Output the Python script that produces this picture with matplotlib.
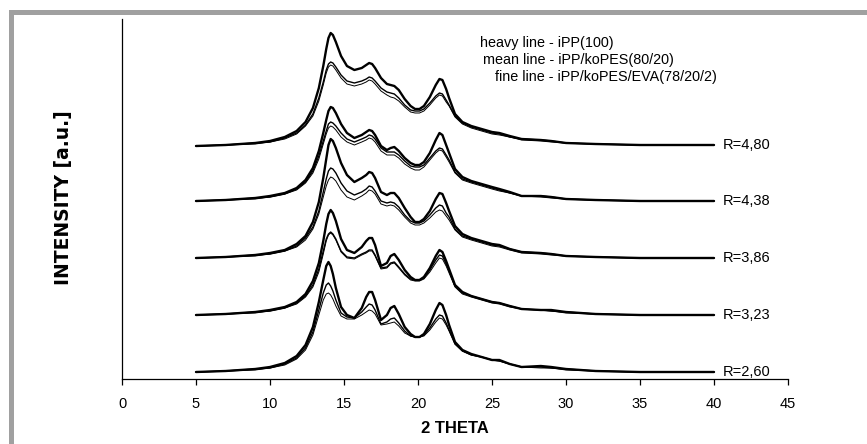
import matplotlib
matplotlib.use("Agg")
import matplotlib.pyplot as plt
from matplotlib.patches import Rectangle

plt.rcParams['font.family'] = ['Liberation Sans', 'DejaVu Sans']

# 2-theta grid
theta = [5, 7, 9, 10, 11, 11.8, 12.4, 12.9, 13.3, 13.6,
         13.8, 13.95, 14.1, 14.25, 14.45, 14.8, 15.2, 15.7, 16.2, 16.5,
         16.7, 16.9, 17.1, 17.5, 17.9, 18.15, 18.4, 18.7, 19.1, 19.5,
         19.8, 20.1, 20.4, 20.8, 21.2, 21.45, 21.65, 21.9, 22.1, 22.5,
         23.0, 23.6, 24.3, 25.0, 25.5, 26.2, 27.0, 28.3, 29.0, 30.0,
         32.0, 35.0, 40.0]

r_labels = ["R=2,60", "R=3,23", "R=3,86", "R=4,38", "R=4,80"]
offsets = [7, 64, 121, 178, 233]

# intensities (a.u.) above each pattern's baseline: heavy / mean / fine
heavy = [
    [0, 1, 3, 5, 9, 16, 27, 45, 70, 92, 106, 110, 106, 98, 84, 65, 57, 54, 64, 75,
     80, 80, 72, 52, 57, 64, 66, 58, 45, 38, 35, 35, 38, 48, 62, 69, 67, 57, 47, 30,
     22, 18, 15, 12, 12, 8, 5, 6, 5, 3, 1, 0, 0],
    [0, 1, 3, 5, 8, 13, 21, 34, 52, 74, 91, 101, 105, 102, 94, 76, 65, 62, 68, 74,
     77, 77, 70, 49, 52, 59, 61, 55, 45, 38, 35, 35, 38, 47, 59, 65, 63, 54, 46, 30,
     23, 19, 16, 13, 12, 9, 6, 5, 5, 3, 1, 0, 0],
    [0, 1, 3, 5, 8, 14, 22, 36, 56, 80, 99, 113, 119, 117, 110, 95, 83, 76, 80, 83,
     86, 85, 80, 66, 63, 65, 65, 60, 50, 41, 36, 36, 39, 47, 59, 65, 64, 55, 47, 32,
     24, 20, 17, 14, 13, 9, 6, 5, 4, 2, 1, 0, 0],
    [0, 1, 3, 5, 8, 13, 21, 33, 50, 68, 81, 90, 94, 93, 88, 77, 68, 63, 66, 69,
     71, 70, 66, 55, 51, 53, 54, 50, 43, 38, 36, 36, 39, 48, 61, 68, 66, 56, 48, 32,
     24, 20, 17, 14, 12, 9, 5, 5, 4, 2, 1, 0, 0],
    [0, 1, 3, 5, 9, 15, 24, 38, 58, 80, 97, 108, 113, 111, 104, 90, 80, 76, 78, 81,
     83, 82, 78, 68, 62, 61, 60, 56, 47, 40, 37, 37, 40, 49, 61, 67, 66, 57, 48, 32,
     24, 20, 17, 14, 13, 10, 7, 6, 5, 3, 2, 1, 1],
]
mean = [
    [0, 1, 3, 4, 8, 14, 24, 40, 62, 79, 87, 89, 86, 81, 72, 59, 55, 54, 60, 65,
     68, 67, 62, 48, 50, 53, 54, 49, 41, 36, 35, 35, 37, 44, 53, 57, 56, 49, 42, 28,
     21, 17, 15, 12, 11, 8, 5, 5, 4, 3, 1, 0, 0],
    [0, 1, 3, 4, 7, 12, 19, 30, 46, 64, 76, 81, 83, 81, 76, 64, 58, 57, 61, 63,
     65, 65, 60, 47, 48, 52, 53, 48, 41, 36, 35, 35, 37, 45, 55, 60, 59, 51, 44, 29,
     22, 19, 16, 13, 12, 9, 6, 5, 4, 3, 1, 0, 0],
    [0, 1, 3, 4, 7, 12, 20, 31, 47, 66, 79, 87, 90, 89, 85, 75, 67, 63, 66, 69,
     72, 71, 67, 57, 55, 56, 55, 51, 43, 37, 35, 35, 37, 43, 50, 53, 52, 45, 41, 29,
     22, 19, 16, 13, 12, 9, 6, 5, 4, 2, 1, 0, 0],
    [0, 1, 3, 4, 7, 12, 19, 30, 45, 60, 70, 77, 79, 78, 75, 68, 62, 59, 62, 64,
     66, 65, 62, 53, 49, 49, 49, 46, 40, 35, 34, 34, 36, 43, 50, 53, 52, 46, 41, 29,
     22, 19, 16, 13, 11, 8, 5, 5, 4, 2, 1, 0, 0],
    [0, 1, 3, 4, 8, 13, 21, 32, 48, 64, 76, 82, 84, 83, 79, 71, 65, 63, 65, 67,
     69, 68, 65, 58, 54, 53, 52, 48, 41, 36, 35, 35, 37, 43, 50, 53, 52, 46, 41, 30,
     23, 19, 16, 13, 12, 9, 7, 6, 5, 3, 2, 1, 1],
]
fine = [
    [0, 1, 2, 4, 7, 13, 22, 37, 57, 72, 78, 79, 77, 73, 66, 56, 53, 53, 57, 60,
     62, 61, 58, 47, 48, 49, 50, 46, 39, 36, 35, 35, 36, 42, 50, 54, 53, 47, 41, 28,
     21, 17, 15, 12, 11, 8, 5, 4, 4, 2, 1, 0, 0],
    [0, 1, 2, 4, 7, 11, 18, 28, 43, 61, 74, 80, 82, 80, 75, 63, 57, 56, 60, 62,
     64, 64, 59, 46, 47, 51, 52, 47, 40, 35, 34, 34, 36, 43, 52, 57, 56, 49, 42, 28,
     21, 18, 15, 12, 11, 8, 6, 5, 4, 2, 1, 0, 0],
    [0, 1, 2, 4, 7, 11, 18, 29, 44, 61, 72, 78, 81, 80, 77, 68, 61, 58, 62, 65,
     68, 67, 64, 54, 52, 53, 52, 48, 41, 35, 33, 33, 35, 40, 46, 48, 47, 42, 38, 28,
     21, 18, 15, 12, 11, 8, 5, 4, 3, 2, 1, 0, 0],
    [0, 1, 2, 4, 7, 11, 18, 28, 42, 57, 67, 73, 75, 74, 71, 64, 59, 56, 59, 61,
     63, 62, 59, 50, 46, 46, 46, 43, 37, 33, 31, 31, 34, 41, 48, 51, 50, 44, 39, 28,
     21, 18, 15, 12, 10, 8, 5, 4, 3, 2, 1, 0, 0],
    [0, 1, 2, 4, 7, 12, 20, 30, 45, 61, 73, 79, 81, 80, 76, 68, 62, 60, 62, 64,
     66, 65, 62, 55, 51, 49, 48, 45, 39, 34, 33, 33, 35, 41, 48, 51, 50, 44, 40, 29,
     22, 18, 15, 12, 11, 9, 6, 5, 4, 3, 2, 1, 1],
]

legend_lines = ["heavy line - iPP(100)",
                "mean line - iPP/koPES(80/20)",
                "fine line - iPP/koPES/EVA(78/20/2)"]

W, H = 867, 444
fig = plt.figure(figsize=(W / 100, H / 100), dpi=100)
fig.patch.set_facecolor("white")

# grey frame (top and left)
fig.add_artist(Rectangle((9 / W, 1 - 15 / H), 1 - 9 / W, 5 / H, transform=fig.transFigure,
                         facecolor="#a0a0a0", edgecolor="none"))
fig.add_artist(Rectangle((9 / W, 0), 5 / W, 1 - 10 / H, transform=fig.transFigure,
                         facecolor="#a0a0a0", edgecolor="none"))

ax = fig.add_axes([122 / W, (H - 379) / H, (788 - 122) / W, (379 - 19) / H])
ax.set_xlim(0, 45)
ax.set_ylim(0, 360)

for i in range(5):
    off = offsets[i]
    ax.plot(theta, [v + off for v in fine[i]], color="black", lw=0.7,
            solid_joinstyle="round", solid_capstyle="round")
    ax.plot(theta, [v + off for v in mean[i]], color="black", lw=1.0,
            solid_joinstyle="round", solid_capstyle="round")
    ax.plot(theta, [v + off for v in heavy[i]], color="black", lw=1.7,
            solid_joinstyle="round", solid_capstyle="round")
    ax.text(40.6, off + heavy[i][-1], r_labels[i], fontsize=10.5, va="center", ha="left")

ax.spines["top"].set_visible(False)
ax.spines["right"].set_visible(False)
ax.spines["left"].set_linewidth(0.9)
ax.spines["bottom"].set_linewidth(0.9)
ax.set_yticks([])
ax.set_xticks(range(0, 50, 5))
ax.tick_params(axis="x", direction="out", length=4, width=0.9, labelsize=10.5, pad=9)

ax.set_xlabel("2 THETA", fontsize=12, fontweight="bold")
ax.xaxis.set_label_coords(0.5, -(428 - 379) / 360, transform=ax.transAxes)
ax.xaxis.label.set_va("center")
ax.set_ylabel("INTENSITY [a.u.]", fontsize=13.5, fontweight="bold",
              family=["DejaVu Sans"])
ax.yaxis.set_label_coords((63 - 122) / 666, (379 - 198) / 360)
ax.yaxis.label.set_va("center")

fig.text(480 / W, 1 - 43 / H, legend_lines[0], fontsize=10.4, va="center", ha="left")
fig.text(483 / W, 1 - 60 / H, legend_lines[1], fontsize=10.4, va="center", ha="left")
fig.text(495 / W, 1 - 77 / H, legend_lines[2], fontsize=10.4, va="center", ha="left")

fig.savefig("out.png", dpi=100, facecolor="white")
